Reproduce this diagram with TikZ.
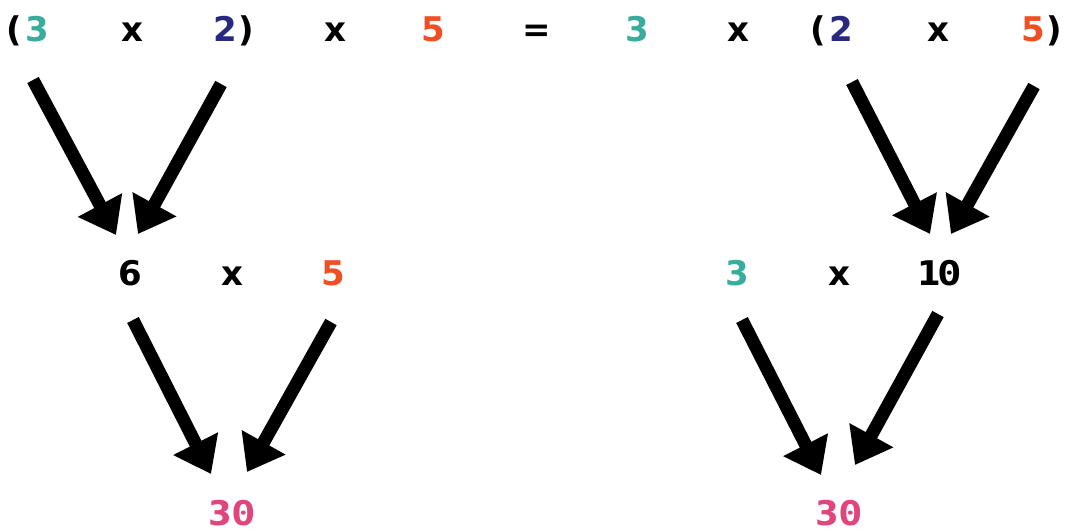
\documentclass[tikz,border=0pt]{standalone}
\usepackage{fontspec}
\newfontfamily\numfont{DejaVu Sans}[BoldFont={DejaVu Sans Bold}]
\newfontfamily\zerofont{DejaVu Sans Mono}[BoldFont={DejaVu Sans Mono Bold}, FakeStretch=1.2]
\newcommand\slzero{{\zerofont\bfseries 0}}
\usetikzlibrary{arrows.meta}
\definecolor{cteal}{RGB}{58,172,158}
\definecolor{cnavy}{RGB}{40,40,125}
\definecolor{corange}{RGB}{240,78,35}
\definecolor{cpink}{RGB}{224,70,125}
\tikzset{
  num/.style={font=\numfont\bfseries\fontsize{34}{38}\selectfont, inner sep=0pt, anchor=base},
  bigarrow/.style={line width=13pt, -{Triangle[width=48pt,length=34pt]}}
}
\begin{document}
\begin{tikzpicture}[x=1pt,y=-1pt]
\useasboundingbox (0,0) rectangle (1069,532);
% top row
\node[num] (lp1) at (14,42) {(};
\node[num,text=cteal] (t3a) at (37,42) {3};
\node[num] (tx1) at (132,42) {x};
\node[num,text=cnavy] (t2a) at (225,42) {2};
\node[num] (rp1) at (246,42) {)};
\node[num] (tx2) at (335,42) {x};
\node[num,text=corange] (t5a) at (433,42) {5};
\node[num] (teq) at (537,42) {=};
\node[num,text=cteal] (t3b) at (637,42) {3};
\node[num] (tx3) at (738,42) {x};
\node[num] (lp2) at (818,42) {(};
\node[num,text=cnavy] (t2b) at (841,42) {2};
\node[num] (tx4) at (938,42) {x};
\node[num,text=corange] (t5b) at (1033,42) {5};
\node[num] (rp2) at (1054,42) {)};
% middle row
\node[num] (m6) at (130,285) {6};
\node[num] (mx1) at (232,285) {x};
\node[num,text=corange] (m5) at (333,285) {5};
\node[num,text=cteal] (m3) at (737,285) {3};
\node[num] (mx2) at (839,285) {x};
\node[num] (m10) at (940,285) {1\kern-4pt\slzero};
% bottom row
\node[num,text=cpink] (b30a) at (232,525) {3\kern-1pt\slzero};
\node[num,text=cpink] (b30b) at (839,525) {3\kern-1pt\slzero};
% arrow ends
\coordinate (a1s) at (33,80);   \coordinate (a1e) at (116,235);
\coordinate (a2s) at (221,84);  \coordinate (a2e) at (138,234);
\coordinate (a3s) at (852,82);  \coordinate (a3e) at (930,234);
\coordinate (a4s) at (1034,86); \coordinate (a4e) at (951,234);
\coordinate (a5s) at (133,320); \coordinate (a5e) at (211,474);
\coordinate (a6s) at (331,322); \coordinate (a6e) at (247,472);
\coordinate (a7s) at (742,320); \coordinate (a7e) at (821,475);
\coordinate (a8s) at (938,314); \coordinate (a8e) at (855,465);
\draw[bigarrow] (a1s) -- (a1e);
\draw[bigarrow] (a2s) -- (a2e);
\draw[bigarrow] (a3s) -- (a3e);
\draw[bigarrow] (a4s) -- (a4e);
\draw[bigarrow] (a5s) -- (a5e);
\draw[bigarrow] (a6s) -- (a6e);
\draw[bigarrow] (a7s) -- (a7e);
\draw[bigarrow] (a8s) -- (a8e);
\end{tikzpicture}
\end{document}
